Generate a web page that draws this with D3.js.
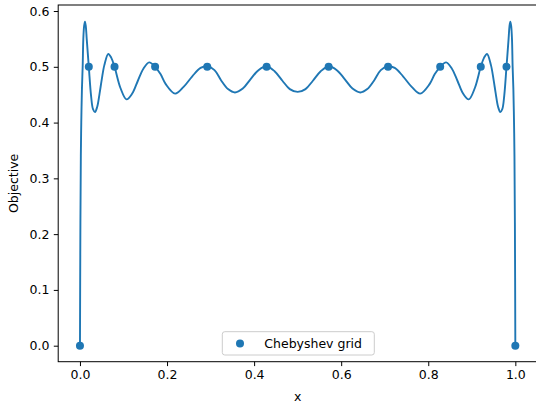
<!DOCTYPE html>
<html>
<head>
<meta charset="utf-8">
<script src="https://cdn.jsdelivr.net/npm/d3@7"></script>
<style>
  html, body { margin: 0; padding: 0; background: #fff; }
  svg { display: block; font-family: "DejaVu Sans", sans-serif; }
</style>
</head>
<body>
<svg id="chart" width="536" height="403"></svg>
<script>
// Objective curve, sampled along x
const curveX = [
  0, 0.001, 0.002, 0.003, 0.0045, 0.0062, 0.0077, 0.0095, 0.0115, 0.0135, 0.0155,
  0.0203, 0.0255, 0.030, 0.0345, 0.0395, 0.045, 0.050, 0.056, 0.065, 0.072,
  0.0794, 0.093, 0.107, 0.120, 0.133, 0.146, 0.159, 0.1726,
  0.185, 0.197, 0.2186, 0.238, 0.258, 0.277, 0.2923, 0.309, 0.324, 0.340, 0.356,
  0.374, 0.392, 0.410, 0.4288, 0.447, 0.465, 0.482, 0.500,
  0.518, 0.535, 0.553, 0.5712, 0.590, 0.608, 0.626, 0.644,
  0.660, 0.676, 0.691, 0.7077, 0.723, 0.742, 0.762, 0.7814, 0.803, 0.815,
  0.8274, 0.841, 0.854, 0.867, 0.880, 0.893, 0.907, 0.9206, 0.928,
  0.935, 0.944, 0.950, 0.955, 0.9605, 0.9655, 0.970, 0.9745, 0.9797, 0.9845,
  0.9865, 0.9885, 0.9905, 0.9923, 0.9938, 0.9955, 0.997, 0.998, 0.999, 1
];
const curveY = [
  0, 0.22, 0.34, 0.40, 0.46, 0.50, 0.55, 0.573, 0.581, 0.572, 0.55,
  0.50, 0.448, 0.424, 0.419, 0.428, 0.452, 0.477, 0.503, 0.523, 0.516,
  0.50, 0.462, 0.4416, 0.452, 0.475, 0.497, 0.508, 0.50,
  0.487, 0.469, 0.452, 0.464, 0.483, 0.498, 0.501, 0.494, 0.476, 0.460, 0.454,
  0.461, 0.478, 0.494, 0.501, 0.492, 0.475, 0.460, 0.455,
  0.460, 0.475, 0.492, 0.501, 0.494, 0.478, 0.461, 0.454,
  0.460, 0.476, 0.494, 0.501, 0.498, 0.483, 0.464, 0.452, 0.469, 0.487,
  0.50, 0.508, 0.497, 0.475, 0.452, 0.4416, 0.462, 0.50, 0.516,
  0.523, 0.503, 0.477, 0.452, 0.428, 0.419, 0.424, 0.448, 0.50, 0.55,
  0.572, 0.581, 0.573, 0.55, 0.50, 0.46, 0.40, 0.34, 0.22, 0
];

// Chebyshev grid nodes and their objective values
const gridX = [0, 0.0203, 0.0794, 0.1726, 0.2923, 0.4288, 0.5712, 0.7077, 0.8274, 0.9206, 0.9797, 1];
const gridY = [0, 0.5, 0.5, 0.5, 0.5, 0.5, 0.5, 0.5, 0.5, 0.5, 0.5, 0];

const xTicks = [0, 0.2, 0.4, 0.6, 0.8, 1.0];
const yTicks = [0, 0.1, 0.2, 0.3, 0.4, 0.5, 0.6];
const legendLabel = "Chebyshev grid";
const xLabel = "x";
const yLabel = "Objective";

const blue = "#1f77b4";
const svg = d3.select("#chart");

const m = { left: 58.2, right: 537.1, top: 5, bottom: 361.7 };
const x = d3.scaleLinear().domain([-0.05, 1.05]).range([m.left, m.right]);
const y = d3.scaleLinear().domain([-0.0287, 0.6108]).range([m.bottom, m.top]);

const plot = svg.append("g");

// curve
const pts = curveX.map((v, i) => [v, curveY[i]]);
plot.append("path")
  .datum(pts)
  .attr("fill", "none")
  .attr("stroke", blue)
  .attr("stroke-width", 1.9)
  .attr("stroke-linejoin", "round")
  .attr("d", d3.line().x(d => x(d[0])).y(d => y(d[1])).curve(d3.curveCatmullRom.alpha(0.5)));

// grid nodes
plot.selectAll("circle.node")
  .data(gridX.map((v, i) => [v, gridY[i]]))
  .join("circle")
  .attr("class", "node")
  .attr("cx", d => x(d[0]))
  .attr("cy", d => y(d[1]))
  .attr("r", 4)
  .attr("fill", blue);

// axes
const fmt = d3.format(".1f");
const xAxis = svg.append("g")
  .attr("transform", `translate(0,${m.bottom})`)
  .call(d3.axisBottom(x).tickValues(xTicks).tickFormat(fmt).tickSize(4.4).tickPadding(4.4));
const yAxis = svg.append("g")
  .attr("transform", `translate(${m.left},0)`)
  .call(d3.axisLeft(y).tickValues(yTicks).tickFormat(fmt).tickSize(4.4).tickPadding(4.4));
[xAxis, yAxis].forEach(g => {
  g.select(".domain").remove();
  g.selectAll(".tick line").attr("stroke", "#000").attr("stroke-width", 1);
  g.selectAll(".tick text").attr("fill", "#000").style("font-size", "12.5px")
    .style("font-family", "'DejaVu Sans', sans-serif");
});

// spines
svg.append("rect")
  .attr("x", m.left).attr("y", m.top)
  .attr("width", m.right - m.left).attr("height", m.bottom - m.top)
  .attr("fill", "none").attr("stroke", "#000").attr("stroke-width", 1);

// axis labels
svg.append("text")
  .attr("x", (m.left + m.right) / 2).attr("y", 401)
  .attr("text-anchor", "middle")
  .style("font-size", "12.5px")
  .text(xLabel);
svg.append("text")
  .attr("transform", `translate(17.5,${(m.top + m.bottom) / 2}) rotate(-90)`)
  .attr("text-anchor", "middle")
  .style("font-size", "12.5px")
  .text(yLabel);

// legend
const lg = svg.append("g");
lg.append("rect")
  .attr("x", 222.3).attr("y", 331.7)
  .attr("width", 152).attr("height", 23.3)
  .attr("rx", 2.5)
  .attr("fill", "#fff").attr("fill-opacity", 0.8)
  .attr("stroke", "#ccc").attr("stroke-width", 1);
lg.append("circle")
  .attr("cx", 240).attr("cy", 343.5).attr("r", 4).attr("fill", blue);
lg.append("text")
  .attr("x", 264.3).attr("y", 347.8)
  .style("font-size", "12.5px")
  .text(legendLabel);
</script>
</body>
</html>
